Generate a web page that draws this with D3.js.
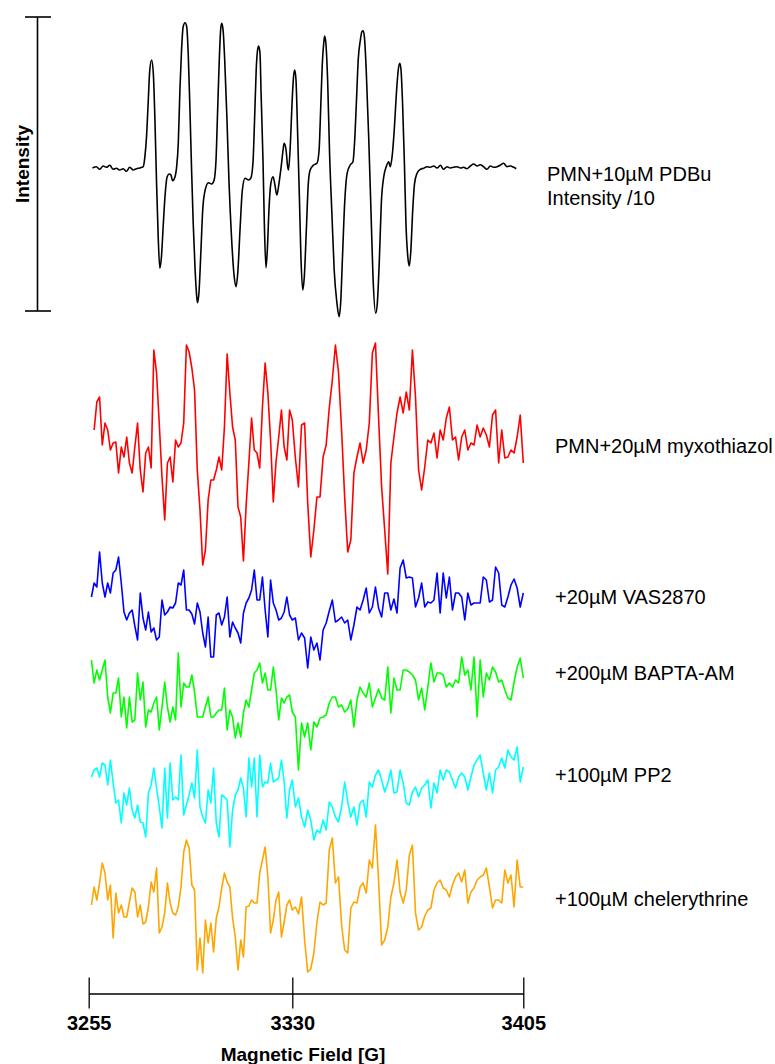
<!DOCTYPE html>
<html><head><meta charset="utf-8">
<script src="https://cdn.jsdelivr.net/npm/d3@7"></script>
<style>body{margin:0;background:#fff}</style>
</head><body>
<svg id="c" width="775" height="1064"></svg>
<script>
// ---------- DATA ----------
const fieldTicks = [3255, 3330, 3405];
const axisTitle = "Magnetic Field [G]";
const intensityTitle = "Intensity";
const traceNames = ["PMN+10µM PDBu", "PMN+20µM myxothiazol", "+20µM VAS2870", "+200µM BAPTA-AM", "+100µM PP2", "+100µM chelerythrine"];
const subNote = "Intensity /10";

// PDBu spectrum (field [G], intensity a.u., shown /10)
const pdbuSpectrum = [[3256.4,0],[3257.8,1.3],[3259.1,-1.3],[3260.3,2],[3261.5,0.7],[3262.8,2.7],[3264.0,-1.3],[3265.2,-0.3],[3266.4,-2],[3267.7,-0.7],[3268.9,-3.3],[3270.1,0.7],[3271.4,-2],[3272.6,-0.7],[3273.8,0],[3275.1,1.3],[3275.7,11.3],[3276.3,31.3],[3276.9,64.7],[3277.5,98],[3278.2,108],[3278.8,94.7],[3279.4,48],[3280.0,-15.3],[3280.6,-68.7],[3281.2,-100.3],[3281.8,-88.7],[3282.5,-55.3],[3283.1,-28.7],[3283.9,-8.7],[3284.7,-6],[3285.3,-7],[3285.9,-12.7],[3286.8,-8.7],[3287.4,1.3],[3288.0,24.7],[3288.6,78],[3289.2,118],[3289.8,141.3],[3290.5,145.3],[3291.1,141.3],[3291.7,111.3],[3292.3,58],[3292.9,-2],[3293.5,-55.3],[3294.2,-102],[3294.8,-128.7],[3295.1,-134.7],[3295.6,-125.3],[3296.3,-85.3],[3297.0,-42],[3297.9,-22],[3299.1,-14.7],[3300.3,-16],[3301.2,-12],[3301.9,8],[3302.5,58],[3303.1,108],[3303.6,138],[3304.0,144.7],[3304.5,138],[3305.1,108],[3305.9,51.3],[3306.7,-15.3],[3307.6,-68.7],[3308.6,-108.7],[3309.3,-118.7],[3309.9,-105.3],[3310.8,-58.7],[3311.6,-22],[3312.6,-10.3],[3313.9,-12],[3314.7,-10.3],[3315.5,4.7],[3316.1,48],[3316.7,98],[3317.2,118],[3317.6,122],[3318.1,114.7],[3318.5,74.7],[3319.2,8],[3319.7,-55.3],[3320.3,-99.7],[3320.8,-82],[3321.4,-42],[3322.1,-15.3],[3322.9,-8.7],[3323.5,-15.3],[3324.3,-27],[3325.1,-15.3],[3325.9,1.3],[3326.6,18],[3327.0,24.7],[3327.7,18],[3328.3,1.3],[3328.6,-2],[3329.3,24.7],[3329.9,64.7],[3330.4,91.3],[3330.8,98],[3331.2,88],[3331.7,38],[3332.3,-28.7],[3332.8,-88.7],[3333.4,-122],[3333.9,-108.7],[3334.6,-58.7],[3335.2,-15.3],[3335.8,-2],[3336.9,3],[3338.0,4.7],[3338.7,18],[3339.2,58],[3339.7,101.3],[3340.2,124.7],[3340.5,132],[3340.9,124.7],[3341.5,84.7],[3342.1,14.7],[3342.9,-48.7],[3343.6,-102],[3344.5,-135.3],[3345.2,-148.7],[3345.7,-135.3],[3346.3,-88.7],[3347.0,-35.3],[3347.8,-5.3],[3348.8,3],[3349.7,6.3],[3350.2,24.7],[3350.8,64.7],[3351.4,108],[3352.1,128],[3352.6,136.3],[3353.0,137.3],[3353.4,131.3],[3354.0,98],[3354.8,31.3],[3355.6,-48.7],[3356.2,-108.7],[3357.1,-145.3],[3357.6,-135.3],[3358.3,-88.7],[3358.9,-35.3],[3359.7,-8.7],[3360.5,1.3],[3361.3,6.3],[3361.8,1.3],[3362.4,11.3],[3363.1,38],[3363.8,74.7],[3364.4,98],[3364.9,104.7],[3365.3,98],[3365.8,64.7],[3366.4,4.7],[3366.9,-55.3],[3367.5,-88.7],[3368.0,-98],[3368.5,-82],[3369.1,-42],[3369.7,-15.3],[3370.5,-5.3],[3371.6,-1.3],[3372.6,-0.3],[3373.7,1.3],[3374.8,0.7],[3375.9,2],[3377.0,0],[3378.1,2.7],[3379.1,-1.3],[3380.2,1.3],[3381.3,0],[3382.4,0.7],[3383.5,1.3],[3384.6,0],[3385.6,0.7],[3386.7,-0.7],[3387.8,2],[3388.9,4],[3390.0,2],[3391.0,3.3],[3392.1,1.3],[3393.2,-1.3],[3394.3,2],[3395.4,0.7],[3396.5,1.3],[3397.5,2.7],[3398.6,4.7],[3399.7,1.3],[3400.8,2],[3401.9,0.7],[3402.7,-0.7]];

// Other spectra sampled every 1 G starting at the given field
const myxoStart = 3257;
const myxoValues = [2,30,35,-13,9,2,-18,-11,-10,-41,-15,-25,-5,-31,-41,-15,9,-38,-60,-21,-15,-36,82,59,8,-45,-88,-31,-25,-50,-8,-15,-11,9,87,80,64,42,-38,-78,-133,-118,-68,-48,-48,-38,-25,-38,5,78,39,5,-8,-75,-85,-129,-73,-31,14,-18,-21,-36,25,69,39,-8,-70,-30,-5,22,-15,-28,22,12,-26,-55,7,9,-71,-125,-98,-65,-65,-25,-13,24,52,87,60,2,-65,-120,-108,-41,-25,-11,-31,-18,9,79,89,15,-55,-98,-142,-31,-5,19,35,19,40,22,82,35,-38,-58,-35,-8,-11,-1,-26,2,-8,14,25,-8,-5,-28,-5,2,-18,-11,-13,7,-5,4,-3,-15,17,22,-31,2,-26,-25,-18,-21,-5,17,-31];

const vasStart = 3256;
const vasValues = [3,17,13,48,17,3,17,7,27,30,43,17,-12,-20,-13,-10,-26,-40,7,-18,-30,-12,-32,-28,-40,-37,0,-15,-12,-7,-8,-3,17,15,30,-10,-10,-14,-24,-3,-12,-33,-47,-17,-57,-57,-15,-13,-25,-17,3,-37,-22,-28,-33,-43,-13,-3,2,10,30,0,0,23,-10,-37,20,-3,-10,-20,-18,-12,3,-15,-20,-18,-40,-33,-38,-68,-37,-50,-43,-60,-30,-23,-11,0,-22,-20,-17,-23,-20,-40,-25,-7,-10,0,12,-13,-7,13,-8,-17,7,7,-10,1,-13,32,40,22,23,22,-7,2,17,-7,-2,-3,0,27,-13,27,2,23,-10,7,7,3,-20,7,-5,-3,-3,-3,23,20,-2,0,33,27,-5,-7,3,15,21,12,-7,7];

const baptaStart = 3256;
const baptaValues = [23,0,13,3,13,23,-14,-30,-10,-10,5,-34,-14,-45,-14,-39,-37,10,-17,1,-44,-27,-29,-20,-14,-47,-24,1,-24,-39,-24,-37,30,-24,0,-4,-4,8,-9,-34,-34,-34,-24,-14,-34,-34,-30,-27,-27,-5,-47,-27,-34,-55,-40,-54,-30,-17,-24,-7,10,13,20,0,10,-7,-7,16,-7,-37,-15,-20,-14,-12,-29,-34,-87,-40,-54,-40,-67,-39,-44,-35,-34,-32,-20,-14,-14,-24,-22,-29,-26,-17,-44,-17,-4,-10,-14,0,-24,-15,-6,-15,-17,16,-30,5,-7,-7,13,13,11,8,3,-17,-5,-27,-4,20,1,10,10,8,-4,0,-4,3,0,26,8,13,-7,26,-34,23,-14,10,3,16,11,1,3,-7,-15,-17,1,16,25,5];

const pp2Start = 3256;
const pp2Values = [3,10,12,3,17,15,-5,20,-3,-23,-20,-43,-13,-25,-8,-30,-38,-25,-42,-43,-57,-13,-5,12,-8,-27,-48,12,-38,17,-20,-17,-20,25,-35,-25,-15,-3,-18,30,-27,-37,-43,-10,-23,12,-43,-57,-15,-17,-20,-67,-30,-15,-10,2,-8,-37,22,-7,22,-37,25,-7,-2,-3,17,-2,0,2,20,-2,-38,-10,0,-27,-18,-37,-47,-30,-40,-60,-50,-53,-40,-50,-22,-27,-37,-42,-27,-2,-22,-37,-27,-45,-23,-20,-37,-2,-7,5,10,0,-12,-3,10,-13,-12,10,-3,-23,-25,-12,-7,-17,-8,-5,0,-28,-3,-13,10,0,10,8,0,-8,3,7,3,-10,3,15,20,25,7,-10,7,-13,10,13,22,12,30,23,20,33,-2,13];

const cheleStart = 3256;
const cheleValues = [-5,13,0,17,37,27,0,15,-38,7,-13,-5,-17,-17,-2,12,8,-17,-5,-24,-22,-7,18,8,32,-33,-27,-13,17,-3,-13,-15,-7,13,48,60,52,15,10,-70,-38,-73,-20,-43,-23,-52,-18,-7,12,27,18,13,-18,-37,-70,-40,-57,-7,-6,0,-3,-3,27,40,53,23,-33,-20,0,8,-37,-22,-5,0,-10,-7,-14,3,-40,-72,-69,-53,-22,-2,-5,-3,50,62,17,23,-25,-50,-53,-8,-2,-3,13,17,7,40,32,75,20,-45,-40,-27,3,17,40,8,-3,10,45,55,-13,-30,-27,-16,-10,-8,10,17,20,12,10,3,15,23,27,18,30,-3,8,12,20,23,25,32,13,-8,0,0,-3,30,17,25,-7,40,13,13];

// ---------- LAYOUT ----------
const svg = d3.select("#c");
const FONT = "'Liberation Sans', Arial, Helvetica, sans-serif";
const x = d3.scaleLinear().domain(fieldTicks).range([88.7, 292.3, 523.3]);

const toSeries = (start, vals) => vals.map((v, i) => [start + i, v]);

const traces = [
  {data: pdbuSpectrum, color: "#000000", base: 168, curve: d3.curveMonotoneX, label: [traceNames[0], subNote], lx: 547, ly: 181},
  {data: toSeries(myxoStart, myxoValues), color: "#ff0000", base: 432, curve: d3.curveLinear, label: [traceNames[1]], lx: 555, ly: 453},
  {data: toSeries(vasStart, vasValues), color: "#0000ff", base: 600, curve: d3.curveLinear, label: [traceNames[2]], lx: 555, ly: 604},
  {data: toSeries(baptaStart, baptaValues), color: "#00ff00", base: 683, curve: d3.curveLinear, label: [traceNames[3]], lx: 555, ly: 680},
  {data: toSeries(pp2Start, pp2Values), color: "#00ffff", base: 780, curve: d3.curveLinear, label: [traceNames[4]], lx: 555, ly: 782},
  {data: toSeries(cheleStart, cheleValues), color: "#ffa500", base: 900, curve: d3.curveLinear, label: [traceNames[5]], lx: 555, ly: 906}
];

traces.forEach(t => {
  const y = d3.scaleLinear().domain([-150, 150]).range([t.base + 150, t.base - 150]);
  const line = d3.line().x(d => x(d[0])).y(d => y(d[1])).curve(t.curve);
  svg.append("path").datum(t.data)
    .attr("d", line).attr("fill", "none")
    .attr("stroke", t.color).attr("stroke-width", 1.6)
    .attr("stroke-linejoin", "round");
  const txt = svg.append("text").attr("x", t.lx).attr("y", t.ly)
    .attr("font-family", FONT).attr("font-size", 20).attr("fill", "#000");
  t.label.forEach((s, i) => {
    txt.append("tspan").attr("x", t.lx).attr("dy", i === 0 ? 0 : 24).text(s);
  });
});

// Intensity scale bar
const bar = d3.scaleLinear().domain([0, 1]).range([311, 17]);
const barG = svg.append("g").attr("stroke", "#000").attr("stroke-width", 1.6);
barG.append("line").attr("x1", 37.5).attr("x2", 37.5).attr("y1", bar(0)).attr("y2", bar(1));
[0, 1].forEach(v => barG.append("line").attr("x1", 25).attr("x2", 51).attr("y1", bar(v)).attr("y2", bar(v)));
svg.append("text").attr("transform", "translate(29,164) rotate(-90)")
  .attr("text-anchor", "middle").attr("font-family", FONT).attr("font-weight", "bold")
  .attr("font-size", 19).text(intensityTitle);

// X axis
const axis = d3.axisBottom(x).tickValues(fieldTicks).tickFormat(d3.format("d"))
  .tickSizeInner(15).tickSizeOuter(0).tickPadding(7);
const ag = svg.append("g").attr("transform", "translate(0,993.5)").call(axis);
ag.select(".domain").attr("stroke", "#000").attr("stroke-width", 1.3);
ag.selectAll(".tick line").attr("y1", -16).attr("stroke", "#000").attr("stroke-width", 1.3);
ag.selectAll(".tick text").attr("font-family", FONT).attr("font-weight", "bold")
  .attr("font-size", 20).attr("fill", "#000");
svg.append("text").attr("x", 303).attr("y", 1061).attr("text-anchor", "middle")
  .attr("font-family", FONT).attr("font-weight", "bold").attr("font-size", 19).text(axisTitle);
</script>
</body></html>
